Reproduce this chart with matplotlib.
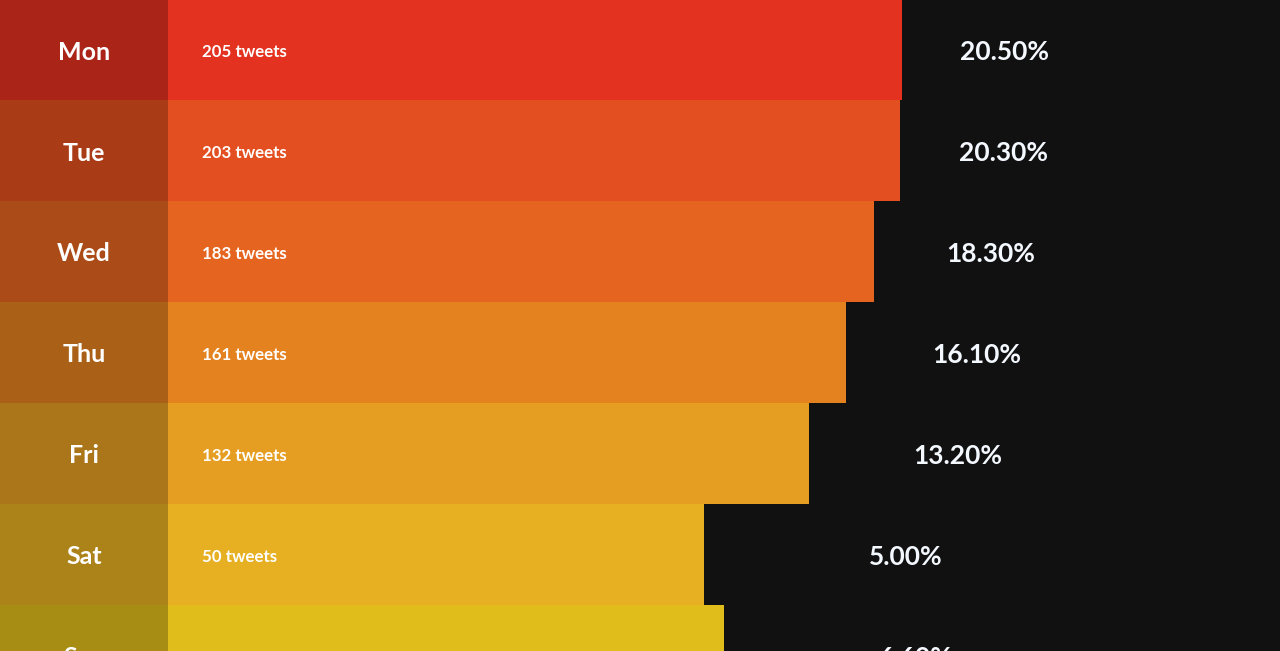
import matplotlib.pyplot as plt
from matplotlib.patches import Rectangle

days = ["Mon", "Tue", "Wed", "Thu", "Fri", "Sat", "Sun"]
tweets = [205, 203, 183, 161, 132, 50, 66]
shares = [20.5, 20.3, 18.3, 16.1, 13.2, 5.0, 6.6]
bar_colors = ["#e3321f", "#e34f20", "#e56520", "#e48220",
              "#e59e22", "#e6b022", "#e1bd1c"]

BG = "#111111"
X_MIN, X_MAX = -500, 500
COL_EDGE = -368.75   # right edge of the day column
PCT_RIGHT = 365      # labels centred between bar end and this
DY = 0.025           # nudge text down a touch

plt.rcParams["font.family"] = ["Lato", "DejaVu Sans"]

fig = plt.figure(figsize=(12.8, 6.51), dpi=100)
fig.patch.set_facecolor(BG)
ax = fig.add_axes([0, 0, 1, 1])
ax.set_facecolor(BG)

y = list(range(len(days)))
ax.barh(y, [t - X_MIN for t in tweets], left=X_MIN, height=1.0,
        color=bar_colors, linewidth=0)

# darker day column on top of the bars
ax.add_patch(Rectangle((X_MIN, -1), COL_EDGE - X_MIN, len(days) + 1,
                       facecolor="black", alpha=0.25, linewidth=0))

for i, (d, t, s) in enumerate(zip(days, tweets, shares)):
    ax.text((X_MIN + COL_EDGE) / 2, i + DY, d, ha="center", va="center",
            color="white", fontsize=18, fontweight="bold")
    ax.text(-342, i + DY, f"{t} tweets", ha="left", va="center",
            color="white", fontsize=12.2, fontweight="bold")
    ax.text((t + PCT_RIGHT) / 2, i + DY, f"{s:.2f}%", ha="center",
            va="center", color="#f4f8ff", fontsize=19, fontweight="bold")

ax.set_xlim(X_MIN, X_MAX)
ax.set_ylim(5.956, -0.49)
ax.axis("off")

fig.savefig("out.png", dpi=100, facecolor=BG)
